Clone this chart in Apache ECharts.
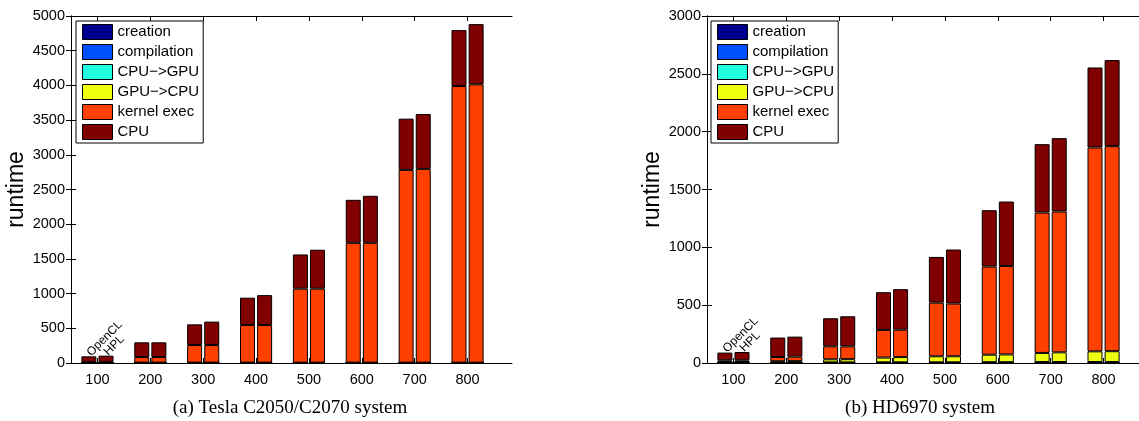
<!DOCTYPE html>
<html lang="en">
<head>
<meta charset="UTF-8">
<title>runtime</title>
<style>
  body { margin: 0; background: #fff; }
  #box { width: 1139px; height: 421px; }
</style>
</head>
<body>
<div id="box"></div>
<script src="https://cdn.jsdelivr.net/npm/echarts@6/dist/echarts.min.js"></script>
<script>
var sizes = ['100', '200', '300', '400', '500', '600', '700', '800'];
var parts = ['creation', 'compilation', 'CPU\u2212>GPU', 'GPU\u2212>CPU', 'kernel exec', 'CPU'];
var partColors = ['#00008f', '#0050ff', '#20ffdf', '#efff10', '#ff4000', '#800000'];
var yTicksTesla = [0, 5000, 500];
var yTicksHd = [0, 3000, 500];

// (a) Tesla C2050/C2070 : OpenCL / HPL
var teslaOclCreation = [1, 1, 1, 1, 1, 1, 1, 1];
var teslaOclCompile  = [1, 1, 1, 1, 1, 1, 1, 1];
var teslaOclToGpu    = [1, 1, 1, 1, 1, 1, 1, 1];
var teslaOclToCpu    = [2, 2, 2, 2, 2, 2, 2, 2];
var teslaOclKernel   = [7, 81, 254, 542, 1066, 1727, 2778, 3986];
var teslaOclCpu      = [84, 212, 298, 394, 493, 619, 738, 806];

var teslaHplCreation = [1, 1, 1, 1, 1, 1, 1, 1];
var teslaHplCompile  = [1, 1, 1, 1, 1, 1, 1, 1];
var teslaHplToGpu    = [1, 1, 1, 1, 1, 1, 1, 1];
var teslaHplToCpu    = [2, 2, 2, 2, 2, 2, 2, 2];
var teslaHplKernel   = [7, 81, 254, 542, 1066, 1727, 2792, 4010];
var teslaHplCpu      = [94, 212, 337, 431, 561, 677, 791, 868];

// (b) HD6970 : OpenCL / HPL
var hdOclCreation = [1, 1, 1, 1, 1, 1, 1, 1];
var hdOclCompile  = [1, 1, 1, 1, 1, 1, 1, 1];
var hdOclToGpu    = [2, 2, 3, 4, 4, 5, 6, 6];
var hdOclToCpu    = [4, 11, 27, 41, 52, 65, 79, 93];
var hdOclKernel   = [15, 37, 112, 239, 464, 762, 1214, 1762];
var hdOclCpu      = [67, 168, 243, 326, 395, 487, 591, 692];

var hdHplCreation = [1, 1, 1, 1, 1, 1, 1, 1];
var hdHplCompile  = [1, 1, 1, 1, 1, 1, 1, 1];
var hdHplToGpu    = [2, 2, 3, 4, 4, 5, 6, 6];
var hdHplToCpu    = [4, 12, 28, 45, 52, 67, 84, 94];
var hdHplKernel   = [15, 39, 111, 237, 456, 765, 1218, 1773];
var hdHplCpu      = [72, 173, 260, 350, 467, 557, 634, 744];

var font = '"Liberation Sans", Arial, sans-serif';
var serif = '19px "Liberation Serif", "DejaVu Serif", serif';
var black = { color: '#000', width: 1 };

var myChart = echarts.init(document.getElementById('box'));

// grids 0/2 hold the bars, grids 1/3 are the wider matlab box around them
var panelLeft = [71, 707];

function panelSeries(panel, ocl, hpl) {
	var out = [];
	parts.forEach(function(name, p) {
		[['ocl', ocl[p], 'OpenCL'], ['hpl', hpl[p], 'HPL']].forEach(function(s) {
			var item = {
				name: name,
				type: 'bar',
				xAxisIndex: panel * 4,
				yAxisIndex: panel * 3,
				stack: 'p' + panel + s[0],
				barWidth: 15,
				barGap: '14%',
				data: s[1],
				itemStyle: { color: partColors[p], borderColor: '#000', borderWidth: 1 }
			};
			if (name === 'CPU') {
				item.label = {
					show: true,
					position: 'top',
					distance: 2,
					rotate: 45,
					align: 'left',
					verticalAlign: 'middle',
					color: '#000',
					fontFamily: font,
					fontSize: 12,
					formatter: function(prm) { return prm.dataIndex === 0 ? s[2] : ''; }
				};
			}
			out.push(item);
		});
	});
	return out;
}

function xAxes(panel) {
	var g = panel * 2;
	var tick = { show: true, inside: true, length: 5, alignWithLabel: true, lineStyle: { color: '#000' } };
	var frameAxis = function(pos) {
		return { type: 'value', gridIndex: g + 1, position: pos, min: 0, max: 1,
			axisLine: { show: true, onZero: false, lineStyle: black },
			axisTick: { show: false }, axisLabel: { show: false }, splitLine: { show: false } };
	};
	return [
		{ type: 'category', gridIndex: g, position: 'bottom', data: sizes,
			axisLine: { show: true, lineStyle: black }, axisTick: tick,
			axisLabel: { color: '#000', fontFamily: font, fontSize: 14.5, margin: 9 } },
		{ type: 'category', gridIndex: g, position: 'top', data: sizes,
			axisLine: { show: true, lineStyle: black }, axisTick: tick, axisLabel: { show: false } },
		frameAxis('bottom'),
		frameAxis('top')
	];
}

function yAxes(panel, t) {
	var g = panel * 2;
	return [
		{ type: 'value', gridIndex: g, position: 'left', min: t[0], max: t[1], interval: t[2],
			name: 'runtime', nameLocation: 'middle', nameGap: 43,
			nameTextStyle: { color: '#000', fontFamily: font, fontSize: 23 },
			axisLine: { show: true, lineStyle: black },
			axisTick: { show: true, inside: true, length: 5, lineStyle: { color: '#000' } },
			axisLabel: { color: '#000', fontFamily: font, fontSize: 14.5, margin: 6,
				formatter: function(v) { return String(v); } },
			splitLine: { show: false } },
		{ type: 'value', gridIndex: g + 1, position: 'left', min: t[0], max: t[1], interval: t[2],
			show: false },
		{ type: 'value', gridIndex: g + 1, position: 'right', min: t[0], max: t[1], interval: t[2],
			axisLine: { show: true, lineStyle: black },
			axisTick: { show: true, inside: true, length: 5, lineStyle: { color: '#000' } },
			axisLabel: { show: false }, splitLine: { show: false } }
	];
}

function legendAt(left) {
	return {
		orient: 'vertical',
		left: left,
		top: 21,
		data: parts,
		selectedMode: false,
		backgroundColor: '#fff',
		borderColor: '#000',
		borderWidth: 1,
		borderRadius: 0,
		padding: [3, 4, 3, 6],
		itemGap: 4,
		itemWidth: 30,
		itemHeight: 15,
		icon: 'rect',
		itemStyle: { borderColor: '#000', borderWidth: 1 },
		textStyle: { color: '#000', fontFamily: font, fontSize: 15 }
	};
}

var option = {
	animation: false,
	backgroundColor: '#fff',
	grid: [
		{ left: panelLeft[0], top: 16, width: 423, height: 347 },
		{ left: panelLeft[0], top: 16, width: 441, height: 347 },
		{ left: panelLeft[1], top: 16, width: 423, height: 347 },
		{ left: panelLeft[1], top: 16, width: 441, height: 347 }
	],
	xAxis: xAxes(0).concat(xAxes(1)),
	yAxis: yAxes(0, yTicksTesla).concat(yAxes(1, yTicksHd)),
	legend: [legendAt(76), legendAt(711)],
	graphic: [
		{ type: 'text', x: 290, y: 408, style: { text: '(a) Tesla C2050/C2070 system', fill: '#000',
			font: serif, textAlign: 'center', textVerticalAlign: 'middle' } },
		{ type: 'text', x: 920, y: 408, style: { text: '(b) HD6970 system', fill: '#000',
			font: serif, textAlign: 'center', textVerticalAlign: 'middle' } }
	],
	series: panelSeries(0,
		[teslaOclCreation, teslaOclCompile, teslaOclToGpu, teslaOclToCpu, teslaOclKernel, teslaOclCpu],
		[teslaHplCreation, teslaHplCompile, teslaHplToGpu, teslaHplToCpu, teslaHplKernel, teslaHplCpu]
	).concat(panelSeries(1,
		[hdOclCreation, hdOclCompile, hdOclToGpu, hdOclToCpu, hdOclKernel, hdOclCpu],
		[hdHplCreation, hdHplCompile, hdHplToGpu, hdHplToCpu, hdHplKernel, hdHplCpu]
	))
};

myChart.setOption(option);
</script>
</body>
</html>
